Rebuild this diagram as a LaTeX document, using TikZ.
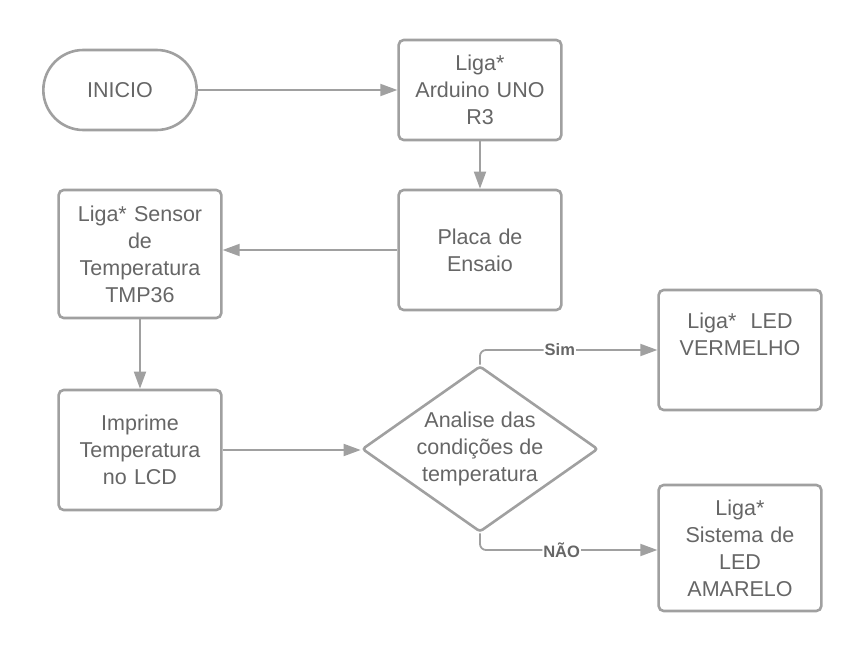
\documentclass[tikz,border=0pt]{standalone}
\usepackage{fontspec}
\setmainfont{Liberation Sans}
\usetikzlibrary{shapes.geometric,shapes.misc,arrows.meta}
\definecolor{ln}{HTML}{A0A0A0}
\definecolor{tx}{HTML}{666666}
\tikzset{
  base/.style={draw=ln, line width=2.6pt, fill=white, text=tx,
    font=\fontsize{21.5}{27}\selectfont},
  box/.style={base, rounded corners=5pt,
    minimum width=160pt, text width=156pt, align=center},
  term/.style={base, rounded rectangle,
    minimum width=160pt, minimum height=80pt},
  dec/.style={base, diamond, aspect=1.42,
    minimum width=236pt, minimum height=166pt, inner sep=0pt, align=center, rounded corners=3pt},
  conn/.style={draw=ln, line width=1.8pt, -{Triangle[length=17pt,width=12pt]}},
  lbl/.style={fill=white, text=tx, font=\fontsize{16.5}{18}\selectfont\bfseries, inner sep=1pt}
}
\begin{document}
\begin{tikzpicture}[x=1pt,y=-1pt]
\useasboundingbox (0,0) rectangle (860,655);
\node[term] (ini) at (120,90) {INICIO};
\node[box, minimum height=100pt] (ard) at (480,90) {Liga*\\Arduino UNO\\R3};
\node[box, minimum height=120pt] (pla) at (480,250) {Placa de\\Ensaio};
\node[box, minimum height=128pt] (sen) at (140,254) {Liga* Sensor\\de\\Temperatura\\TMP36};
\node[box, minimum height=120pt] (imp) at (140,450) {Imprime\\Temperatura\\no LCD};
\node[dec] (ana) at (480,449) {Analise das\\condições de\\temperatura};
\node[box, minimum height=120pt] (red) at (740,350) {Liga*\ \ LED\\VERMELHO\\[4pt]\mbox{}};
\node[box, minimum height=126pt] (yel) at (740,548) {Liga*\\Sistema de\\LED\\AMARELO};
\coordinate (c1) at (480,350);
\coordinate (c2) at (480,550);
\draw[conn] (ini) -- (ard);
\draw[conn] (ard) -- (pla);
\draw[conn] (pla.west) -- (pla.west -| sen.east);
\draw[conn] (sen) -- (imp);
\draw[conn] (imp.east) -- (imp.east -| ana.west);
\draw[conn, rounded corners=6pt] (ana.north) -- (c1) -- node[lbl, pos=0.45]{Sim} (red.west |- c1);
\draw[conn, rounded corners=6pt] (ana.south) -- (c2) -- node[lbl, pos=0.46]{NÃO} (yel.west |- c2);
\end{tikzpicture}
\end{document}
